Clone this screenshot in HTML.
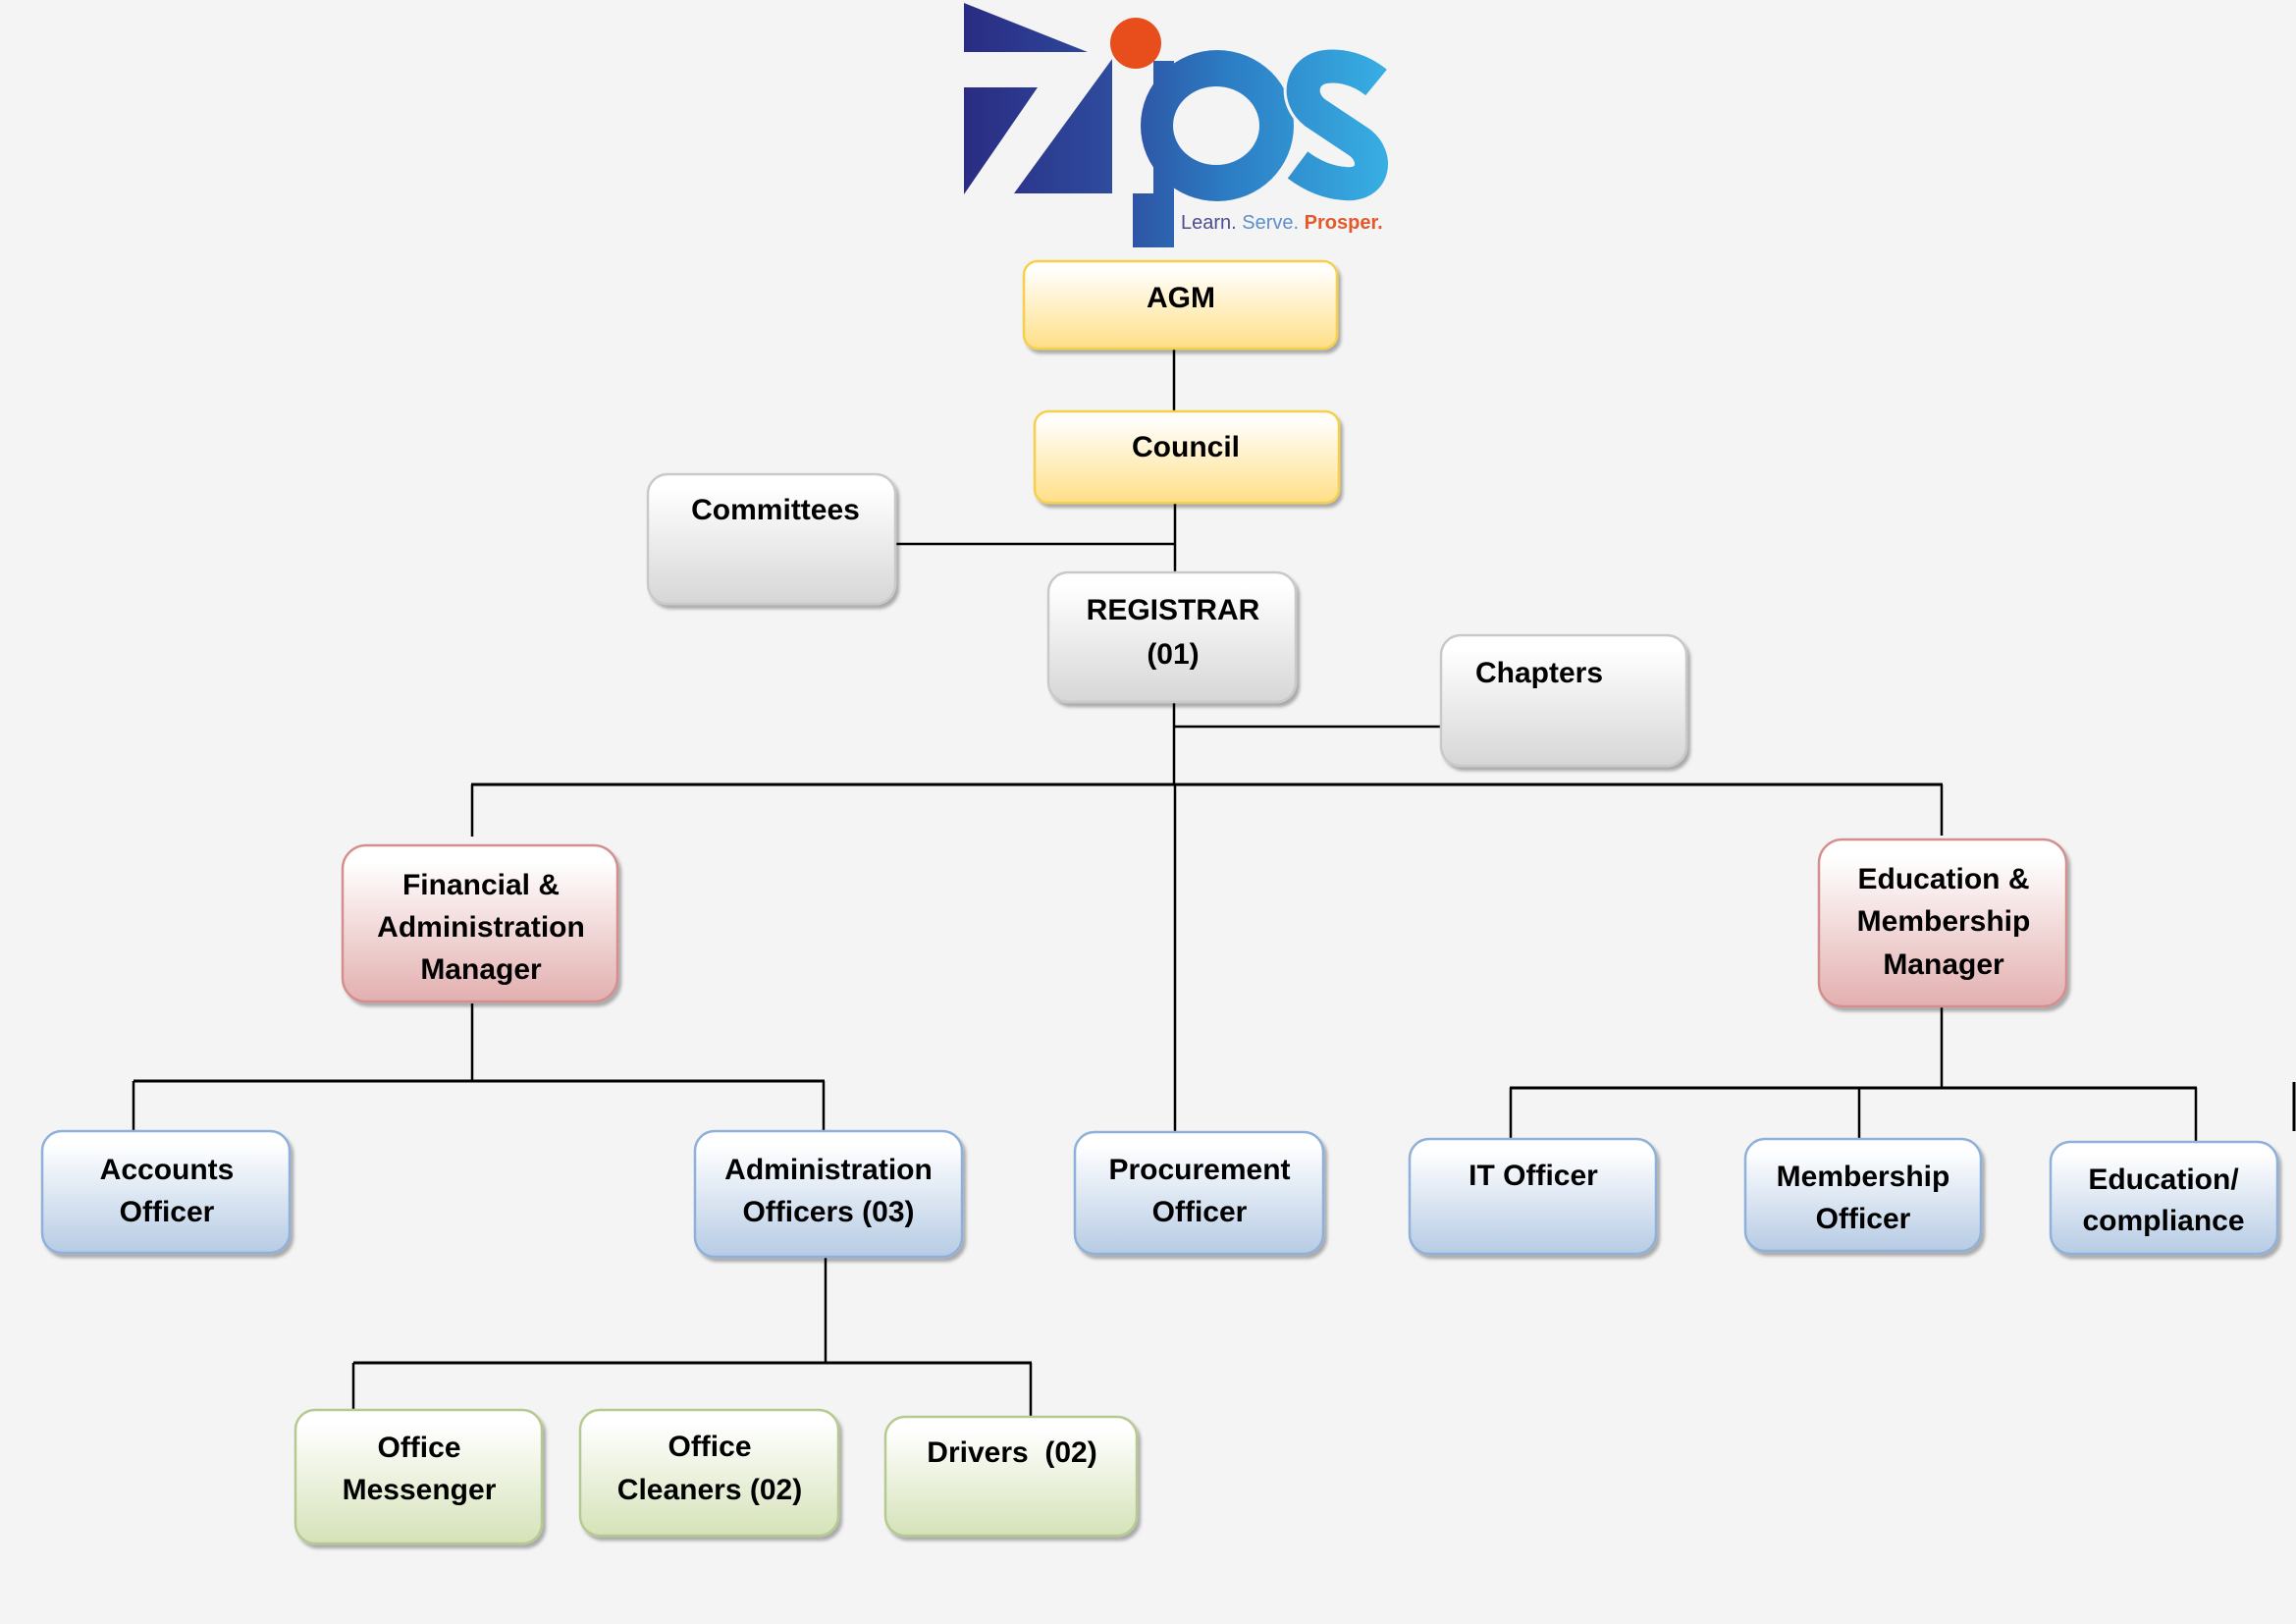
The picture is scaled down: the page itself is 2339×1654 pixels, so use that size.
<!DOCTYPE html>
<html>
<head>
<meta charset="utf-8">
<style>
  html,body{margin:0;padding:0;background:#f4f4f4;}
  svg{display:block;}
  .t{font-family:"Liberation Sans",Arial,sans-serif;font-weight:bold;font-size:30px;fill:#000;text-anchor:middle;}
</style>
</head>
<body>
<svg width="2339" height="1654" viewBox="0 0 2339 1654" xmlns="http://www.w3.org/2000/svg">
  <defs>
    <linearGradient id="lg" gradientUnits="userSpaceOnUse" x1="982" y1="0" x2="1417" y2="0">
      <stop offset="0" stop-color="#2a2c83"/>
      <stop offset="0.35" stop-color="#2e4c9e"/>
      <stop offset="0.62" stop-color="#2c7dc4"/>
      <stop offset="1" stop-color="#38b0e4"/>
    </linearGradient>
    <linearGradient id="gY" x1="0" y1="0" x2="0" y2="1">
      <stop offset="0.1" stop-color="#fffefb"/><stop offset="1" stop-color="#ffdf86"/>
    </linearGradient>
    <linearGradient id="gG" x1="0" y1="0" x2="0" y2="1">
      <stop offset="0.1" stop-color="#ffffff"/><stop offset="1" stop-color="#d6d6d6"/>
    </linearGradient>
    <linearGradient id="gP" x1="0" y1="0" x2="0" y2="1">
      <stop offset="0.1" stop-color="#ffffff"/><stop offset="1" stop-color="#e3afaf"/>
    </linearGradient>
    <linearGradient id="gB" x1="0" y1="0" x2="0" y2="1">
      <stop offset="0.1" stop-color="#ffffff"/><stop offset="1" stop-color="#b6cbe4"/>
    </linearGradient>
    <linearGradient id="gN" x1="0" y1="0" x2="0" y2="1">
      <stop offset="0.1" stop-color="#ffffff"/><stop offset="1" stop-color="#d5e2b8"/>
    </linearGradient>
    <filter id="sh" x="-10%" y="-10%" width="130%" height="130%">
      <feDropShadow dx="3" dy="4" stdDeviation="1.5" flood-color="#000" flood-opacity="0.3"/>
    </filter>
  </defs>

  <rect x="0" y="0" width="2339" height="1654" fill="#f4f4f4"/>

  <!-- LOGO -->
  <g fill="url(#lg)">
    <polygon points="982,3 1108,53 982,53"/>
    <polygon points="982,89 1057,89 982,198"/>
    <polygon points="1133,60 1133,197 1033,197"/>
    <ellipse cx="1240" cy="128" rx="78" ry="77"/>
    <rect x="1175" y="62" width="21" height="190"/>
    <rect x="1154" y="197" width="42" height="55"/>
  </g>
  <ellipse cx="1239" cy="128" rx="44" ry="40" fill="#f4f4f4"/>
  <path d="M1402,84 C1385,70 1365,66 1350,68 C1325,72 1320,100 1340,115 L1385,145 C1405,160 1400,190 1370,187 C1355,186 1338,180 1322,168" fill="none" stroke="#f4f4f4" stroke-width="40"/>
  <path d="M1402,84 C1385,70 1365,66 1350,68 C1325,72 1320,100 1340,115 L1385,145 C1405,160 1400,190 1370,187 C1355,186 1338,180 1322,168" fill="none" stroke="url(#lg)" stroke-width="34"/>
  <circle cx="1157" cy="44" r="26" fill="#e84e1b"/>
  <text x="1203" y="233" font-family="Liberation Sans,Arial,sans-serif" font-size="20"><tspan fill="#4b4e8c">Learn.</tspan><tspan fill="#5d8fc9"> Serve.</tspan><tspan fill="#e3592a" font-weight="bold"> Prosper.</tspan></text>

  <!-- CONNECTORS -->
  <g stroke="#000" stroke-width="2.5" fill="none">
    <line x1="1196" y1="355" x2="1196" y2="420"/>
    <line x1="1197" y1="512" x2="1197" y2="584"/>
    <line x1="912" y1="554" x2="1197" y2="554"/>
    <line x1="1196" y1="715" x2="1196" y2="800"/>
    <line x1="1196" y1="740" x2="1468" y2="740"/>
    <line x1="480" y1="799" x2="1979" y2="799" stroke-width="3"/>
    <line x1="1197" y1="800" x2="1197" y2="1153"/>
    <line x1="481" y1="799" x2="481" y2="852"/>
    <line x1="1978" y1="799" x2="1978" y2="851"/>
    <line x1="481" y1="1022" x2="481" y2="1101"/>
    <line x1="136" y1="1101" x2="840" y2="1101" stroke-width="3"/>
    <line x1="136" y1="1101" x2="136" y2="1152"/>
    <line x1="839" y1="1101" x2="839" y2="1152"/>
    <line x1="1978" y1="1026" x2="1978" y2="1108"/>
    <line x1="1538" y1="1108" x2="2238" y2="1108" stroke-width="3"/>
    <line x1="1539" y1="1108" x2="1539" y2="1160"/>
    <line x1="1894" y1="1108" x2="1894" y2="1160"/>
    <line x1="2237" y1="1108" x2="2237" y2="1163"/>
    <line x1="2337" y1="1102" x2="2337" y2="1152" stroke-width="3"/>
    <line x1="841" y1="1280" x2="841" y2="1388"/>
    <line x1="360" y1="1388" x2="1051" y2="1388" stroke-width="3"/>
    <line x1="360" y1="1388" x2="360" y2="1436"/>
    <line x1="1050" y1="1388" x2="1050" y2="1443"/>
  </g>

  <!-- BOXES -->
  <g filter="url(#sh)" stroke-width="2.5">
    <rect x="1043" y="266" width="319" height="89" rx="14" fill="url(#gY)" stroke="#f6d04e"/>
    <rect x="1054" y="419" width="310" height="93" rx="14" fill="url(#gY)" stroke="#f6d04e"/>
    <rect x="660" y="483" width="252" height="132" rx="20" fill="url(#gG)" stroke="#c9c9c9"/>
    <rect x="1068" y="583" width="252" height="132" rx="20" fill="url(#gG)" stroke="#c9c9c9"/>
    <rect x="1468" y="647" width="250" height="133" rx="20" fill="url(#gG)" stroke="#c9c9c9"/>
    <rect x="349" y="861" width="280" height="159" rx="24" fill="url(#gP)" stroke="#d48e8e"/>
    <rect x="1853" y="855" width="252" height="170" rx="24" fill="url(#gP)" stroke="#d48e8e"/>
    <rect x="43" y="1152" width="252" height="124" rx="20" fill="url(#gB)" stroke="#8fb1d9"/>
    <rect x="708" y="1152" width="272" height="128" rx="20" fill="url(#gB)" stroke="#8fb1d9"/>
    <rect x="1095" y="1153" width="253" height="124" rx="20" fill="url(#gB)" stroke="#8fb1d9"/>
    <rect x="1436" y="1160" width="251" height="117" rx="20" fill="url(#gB)" stroke="#8fb1d9"/>
    <rect x="1778" y="1160" width="240" height="114" rx="20" fill="url(#gB)" stroke="#8fb1d9"/>
    <rect x="2089" y="1163" width="231" height="114" rx="20" fill="url(#gB)" stroke="#8fb1d9"/>
    <rect x="301" y="1436" width="251" height="136" rx="20" fill="url(#gN)" stroke="#b6ca90"/>
    <rect x="591" y="1436" width="263" height="128" rx="20" fill="url(#gN)" stroke="#b6ca90"/>
    <rect x="902" y="1443" width="256" height="121" rx="20" fill="url(#gN)" stroke="#b6ca90"/>
  </g>

  <!-- LABELS -->
  <text class="t" x="1203" y="313">AGM</text>
  <text class="t" x="1208" y="465">Council</text>
  <text class="t" x="790" y="529">Committees</text>
  <text class="t" x="1195" y="631">REGISTRAR</text>
  <text class="t" x="1195" y="676">(01)</text>
  <text class="t" x="1503" y="695" style="text-anchor:start">Chapters</text>

  <text class="t" x="490" y="911">Financial &amp;</text>
  <text class="t" x="490" y="954">Administration</text>
  <text class="t" x="490" y="997">Manager</text>

  <text class="t" x="1980" y="905">Education &amp;</text>
  <text class="t" x="1980" y="948">Membership</text>
  <text class="t" x="1980" y="992">Manager</text>

  <text class="t" x="170" y="1201">Accounts</text>
  <text class="t" x="170" y="1244">Officer</text>

  <text class="t" x="844" y="1201">Administration</text>
  <text class="t" x="844" y="1244">Officers (03)</text>

  <text class="t" x="1222" y="1201">Procurement</text>
  <text class="t" x="1222" y="1244">Officer</text>

  <text class="t" x="1562" y="1207">IT Officer</text>

  <text class="t" x="1898" y="1208">Membership</text>
  <text class="t" x="1898" y="1251">Officer</text>

  <text class="t" x="2204" y="1211">Education/</text>
  <text class="t" x="2204" y="1253">compliance</text>

  <text class="t" x="427" y="1484">Office</text>
  <text class="t" x="427" y="1527">Messenger</text>

  <text class="t" x="723" y="1483">Office</text>
  <text class="t" x="723" y="1527">Cleaners (02)</text>

  <text class="t" x="1031" y="1489" xml:space="preserve">Drivers  (02)</text>
</svg>
</body>
</html>
